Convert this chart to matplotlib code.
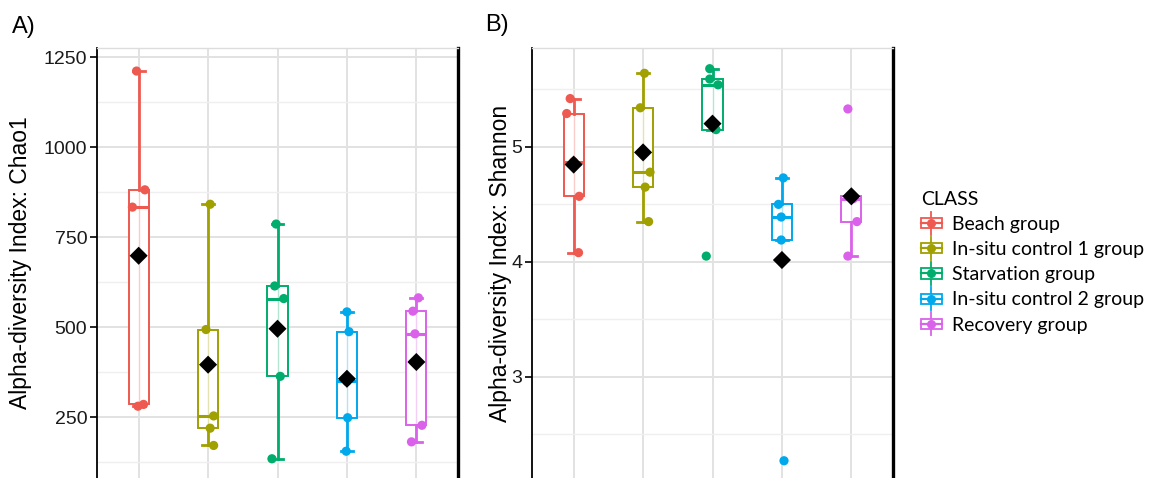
# alpha diversity boxplots (Chao1 / Shannon) by class

import numpy as np
import matplotlib
matplotlib.use("Agg")
import matplotlib.pyplot as plt
from matplotlib.legend_handler import HandlerBase
from matplotlib.patches import Rectangle
from matplotlib.lines import Line2D

plt.rcParams["font.family"] = ["Liberation Sans", "DejaVu Sans"]

# --- data ---
groups = ["Beach group", "In-situ control 1 group", "Starvation group",
          "In-situ control 2 group", "Recovery group"]
colors = ["#EE5950", "#A0A000", "#00AD6C", "#00A8EC", "#DA62EA"]

chao1 = [
    [1211, 881, 833, 285, 280],
    [841, 493, 253, 219, 171],
    [786, 614, 579, 363, 134],
    [542, 487, 349, 248, 155],
    [581, 544, 481, 227, 181],
]
shannon = [
    [5.42, 5.29, 4.87, 4.57, 4.08],
    [5.64, 5.34, 4.78, 4.65, 4.35],
    [5.68, 5.59, 5.54, 5.15, 4.05],
    [4.73, 4.50, 4.39, 4.19, 2.27],
    [5.33, 4.57, 4.55, 4.35, 4.05],
]

# horizontal jitter of the sample points (as drawn)
jit_a = [
    [-0.03, 0.09, -0.09, 0.07, -0.01],
    [0.03, -0.03, 0.08, 0.03, 0.08],
    [-0.02, -0.04, 0.09, 0.04, -0.08],
    [0.0, 0.03, 0.0, 0.01, -0.01],
    [0.03, -0.05, -0.02, 0.08, -0.07],
]
jit_b = [
    [-0.05, -0.10, 0.0, 0.08, 0.07],
    [0.02, -0.04, 0.10, 0.03, 0.08],
    [-0.04, -0.04, 0.08, 0.05, -0.09],
    [0.02, -0.05, -0.01, -0.01, 0.03],
    [-0.05, 0.0, 0.03, 0.08, -0.05],
]

FONT = "Liberation Sans"


def draw_panel(ax, data, jit):
    pos = np.arange(1, len(data) + 1)
    for i, (vals, c) in enumerate(zip(data, colors)):
        ax.boxplot(vals, positions=[pos[i]], widths=0.29, whis=1.5,
                   showfliers=False, patch_artist=True, capwidths=0.17,
                   manage_ticks=False,
                   boxprops=dict(facecolor="white", edgecolor=c, linewidth=1.4),
                   medianprops=dict(color=c, linewidth=2.2),
                   whiskerprops=dict(color=c, linewidth=2.0),
                   capprops=dict(color=c, linewidth=2.0), zorder=2)
        q1, q3 = np.percentile(vals, [25, 75])
        ax.plot([pos[i], pos[i]], [q1, q3], color=c, alpha=0.3, lw=1, zorder=3)
        ax.scatter(pos[i] + np.array(jit[i]), vals, s=44, color=c,
                   edgecolor="none", zorder=4)
        ax.scatter(pos[i], np.mean(vals), marker="D", s=85, color="black",
                   edgecolor="none", zorder=5)
    ax.set_xlim(0.4, 5.6)
    ax.set_xticks(pos)
    ax.tick_params(axis="x", length=0, labelbottom=False)
    ax.tick_params(axis="y", length=5, width=1.2, labelsize=14,
                   labelcolor="#1a1a1a", pad=2)
    for lab in ax.get_yticklabels():
        lab.set_family(FONT)
    ax.grid(True, which="major", color="#E2E2E2", lw=1.4)
    ax.grid(True, which="minor", axis="y", color="#EFEFEF", lw=1.0)
    ax.set_axisbelow(True)
    ax.spines["left"].set_linewidth(1.3)
    ax.spines["right"].set_linewidth(2.4)
    ax.spines["top"].set_color("#DDDDDD")
    ax.spines["top"].set_linewidth(1.0)
    ax.spines["bottom"].set_visible(False)


fig = plt.figure(figsize=(11.5, 4.78), dpi=100)
axA = fig.add_axes([97 / 1150, 0, 361 / 1150, 430 / 478])
axB = fig.add_axes([532 / 1150, 0, 361 / 1150, 430 / 478])

draw_panel(axA, chao1, jit_a)
axA.set_ylim(80.6, 1275)
axA.set_yticks([250, 500, 750, 1000, 1250])
axA.set_yticks([125, 375, 625, 875, 1125], minor=True)
axA.tick_params(axis="y", which="minor", length=0)
axA.set_ylabel("Alpha-diversity Index: Chao1", fontsize=16.5, family=FONT)
axA.yaxis.set_label_coords(-0.18, 0.5)

draw_panel(axB, shannon, jit_b)
axB.set_ylim(2.12, 5.86)
axB.set_yticks([3, 4, 5])
axB.set_yticks([2.5, 3.5, 4.5, 5.5], minor=True)
axB.tick_params(axis="y", which="minor", length=0)
axB.set_ylabel("Alpha-diversity Index: Shannon", fontsize=16.5, family=FONT)
axB.yaxis.set_label_coords(-0.055, 0.5)

fig.text(12 / 1150, 1 - 27 / 478, "A)", fontsize=17, va="center", ha="left",
         family=FONT)
fig.text(485 / 1150, 1 - 25 / 478, "B)", fontsize=17, va="center", ha="left",
         family=FONT)


# legend key: little boxplot glyph with a dot
class BoxKey(HandlerBase):
    def create_artists(self, legend, orig_handle, xdescent, ydescent,
                       width, height, fontsize, trans):
        c = orig_handle.get_color()
        cx = -xdescent + width / 2
        cy = (height - ydescent) / 2
        bw, bh = width * 0.95, height * 0.75
        box = Rectangle((cx - bw / 2, cy - bh / 2), bw, bh, facecolor="white",
                        edgecolor=c, lw=1.3, transform=trans)
        mid = Line2D([cx - bw / 2, cx + bw / 2], [cy, cy], color=c, lw=1.6,
                     transform=trans)
        wl = Line2D([cx, cx], [cy - height * 0.85, cy + height * 0.85],
                    color=c, lw=1.3, transform=trans, zorder=0)
        dot = Line2D([cx], [cy], marker="o", markersize=5.5, color=c, lw=0,
                     transform=trans)
        return [wl, box, mid, dot]


handles = [Line2D([], [], color=c) for c in colors]
leg = fig.legend(handles, groups, loc="upper left",
                 bbox_to_anchor=(913 / 1150, 1 - 183 / 478), title="CLASS",
                 alignment="left", frameon=False,
                 prop={"family": "Lato", "size": 14},
                 title_fontproperties={"family": "Lato", "size": 14},
                 handler_map={Line2D: BoxKey()}, handlelength=1.1,
                 handletextpad=0.5, labelspacing=0.42, borderaxespad=0)

fig.savefig("out.png", dpi=100)
